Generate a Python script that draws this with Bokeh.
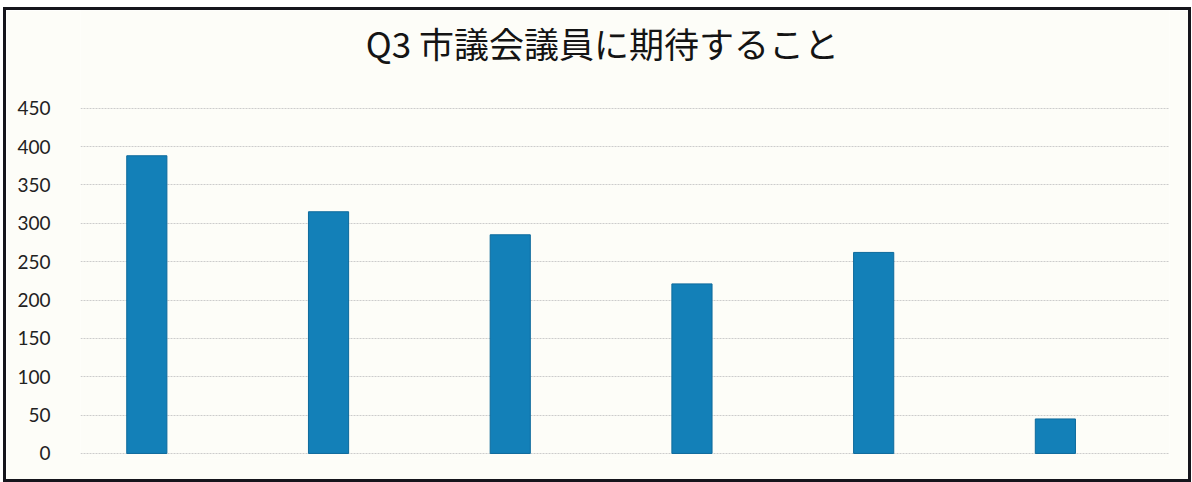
from bokeh.plotting import figure
from bokeh.models import Range1d, FixedTicker, Label
from bokeh.embed import file_html
from bokeh.resources import INLINE

# Data
categories = ["1", "2", "3", "4", "5", "6"]
values = [388, 315, 285, 221, 262, 45]
y_ticks = [0, 50, 100, 150, 200, 250, 300, 350, 400, 450]
title_text = "Q3 市議会議員に期待すること"

xs = list(range(len(categories)))

p = figure(width=1188, height=475, output_backend="svg", toolbar_location=None,
           x_range=Range1d(-0.365, 5.628), y_range=Range1d(-6.56, 577.3),
           min_border_left=74, min_border_right=25, min_border_top=0, min_border_bottom=27)

p.background_fill_color = "#fdfdf8"
p.border_fill_color = "#fdfdf8"
p.outline_line_color = None

p.vbar(x=xs, top=values, bottom=0, width=0.221, fill_color="#1380b8",
       line_color="#0d6a9c", line_width=1)

title = Label(x=2.507, y=535, text=title_text, text_align="center", text_baseline="middle",
              text_font="Noto Sans CJK JP", text_font_size="35px", text_color="#141414")
p.add_layout(title)

p.xaxis.visible = False
p.xgrid.visible = False
p.yaxis.ticker = FixedTicker(ticks=y_ticks)
p.yaxis.axis_line_color = None
p.yaxis.major_tick_line_color = None
p.yaxis.minor_tick_line_color = None
p.yaxis.major_label_text_font = "Lato"
p.yaxis.major_label_text_font_size = "19px"
p.yaxis.major_label_text_color = "#222222"
p.yaxis.major_label_standoff = 24
p.ygrid.grid_line_color = "#cccccc"
p.ygrid.grid_line_width = 1
p.ygrid.grid_line_dash = "2 1"

p.styles = {"border": "3px solid #15151c", "margin-left": "3px", "margin-top": "7px"}

open("out.html", "w").write(file_html(p, INLINE))
